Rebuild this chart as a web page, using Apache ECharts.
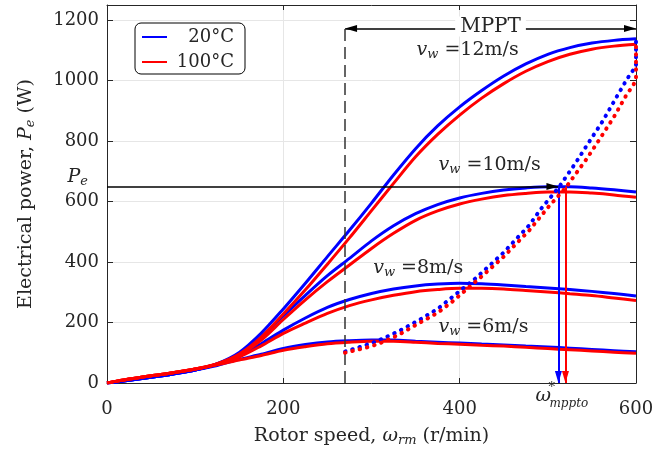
<!DOCTYPE html>
<html><head><meta charset="utf-8">
<script src="https://cdn.jsdelivr.net/npm/echarts@6/dist/echarts.min.js"></script>
<style>html,body{margin:0;padding:0;background:#fff}#c{width:652px;height:454px}</style>
</head><body><div id="c"></div>
<script>
// ---- data ----
const speed = [0,25,50,75,100,125,150,175,200,225,250,275,300,325,350,375,400,425,450,475,500,525,550,575,600];
const p20_12  = [0,9,19,30,43,64,101,165,245,330,418,505,595,688,775,850,913,967,1015,1055,1087,1109,1124,1133,1138];
const p100_12 = [0,13,24,34,46,64,96,152,228,308,393,480,570,660,748,822,886,942,990,1031,1063,1087,1104,1114,1120];
const p20_10  = [0,9,19,30,43,63,97,152,222,290,355,412,470,520,560,590,612,627,638,645,649,649,645,639,632];
const p100_10 = [0,13,24,34,46,63,92,142,210,275,335,390,445,495,538,569,592,608,620,627,632,632,628,622,614];
const p20_8   = [0,9,19,30,43,62,90,130,175,215,250,276,296,311,321,327,330,328,324,319,314,309,303,296,288];
const p100_8  = [0,13,24,34,46,62,86,123,164,198,230,256,275,290,302,309,313,313,311,306,301,295,289,281,273];
const p20_6   = [0,9,19,30,43,58,78,95,114,127,136,140,142,142,138,135,132,129,126,122,119,115,111,107,103];
const p100_6  = [0,13,24,34,46,60,76,91,108,120,130,135,138,138,135,131,128,125,122,118,114,110,106,102,98];

const mpptSpeed20 = [270,290,307,330,354,375,392,418,449,479,492,513,532,547,562,578,588,594,600,600,600,600,600];
const mpptPower20 = [104,122,139,170,208,245,285,346,429,522,575,649,730,798,865,946,996,1024,1046,1068,1090,1112,1136];
const mpptSpeed100 = [270,290,307,330,354,375,392,426,449,479,500,520,543,558,575,589,597,600,600,600,600,600];
const mpptPower100 = [100,114,128,158,198,232,270,355,415,505,580,645,737,803,880,952,985,1007,1035,1063,1090,1120];

const legendNames = ['20°C','100°C'];
const windLabels = ['12m/s','10m/s','8m/s','6m/s'];
const peLevel = 650;          // P_e
const wOpt20 = 512, wOpt100 = 520;  // ω*_mppto
const mpptStart = 270, mpptEnd = 600, mpptArrowLevel = 1172;

// ---- styling ----
const FONT = 'DejaVu Serif';
const TXT = '#262626';
const BLUE = '#0000ff', RED = '#ff0000';

function pairs(xs, ys){ return xs.map((x,i)=>[x, ys[i]]); }
function solid(name, color, ys, z){
  return {type:'line', name, data:pairs(speed, ys), showSymbol:false, smooth:0.3,
    lineStyle:{color, width:3}, itemStyle:{color}, z, animation:false, silent:true};
}
function dotted(name, color, xs, ys, z){
  return {type:'line', name, data:pairs(xs, ys), showSymbol:false, smooth:false,
    lineStyle:{color, width:4, type:[0.5,7], cap:'round'}, itemStyle:{color}, z, animation:false, silent:true};
}
const rich = {
  i:{fontFamily:FONT, fontStyle:'italic', fontSize:19, color:TXT},
  r:{fontFamily:FONT, fontSize:19, color:TXT},
  sub:{fontFamily:FONT, fontStyle:'italic', fontSize:13, color:TXT, padding:[9,0,0,0]}
};
const axisCommon = {
  axisLine:{show:true, onZero:false, lineStyle:{color:'#262626', width:1}},
  axisTick:{show:true, inside:true, length:5, lineStyle:{color:'#262626'}},
};

const chart = echarts.init(document.getElementById('c'), null, {renderer:'canvas'});
const option = {
  animation:false,
  backgroundColor:'#fff',
  grid:{left:107, right:16, top:5, bottom:71, containLabel:false, outerBoundsMode:'none'},
  legend:{
    data:legendNames, orient:'vertical', left:135, top:23, padding:[5,11,3,7], itemGap:7,
    itemWidth:25, itemHeight:2, icon:'rect', borderColor:'#000', borderWidth:1, borderRadius:6,
    backgroundColor:'#fff', selectedMode:false,
    formatter:n => '{t|'+n+'}',
    textStyle:{fontFamily:FONT, fontSize:18, color:TXT,
      rich:{t:{fontFamily:FONT, fontSize:18, color:TXT, width:62, align:'right', lineHeight:22}}}
  },
  xAxis:[
    Object.assign({type:'value', min:0, max:600, interval:200, position:'bottom',
      axisLabel:{fontFamily:FONT, fontSize:18, color:TXT, margin:17},
      splitLine:{show:true, lineStyle:{color:'#e6e6e6', width:1}},
      name:'Rotor speed, {i|ω}{sub|rm} (r/min)', nameLocation:'middle', nameGap:42, nameMoveOverlap:false,
      nameTextStyle:{fontFamily:FONT, fontSize:19, color:TXT, rich}}, axisCommon),
    Object.assign({type:'value', min:0, max:600, interval:200, position:'top',
      axisLabel:{show:false}, splitLine:{show:false}}, axisCommon)
  ],
  yAxis:[
    Object.assign({type:'value', min:0, max:1250, interval:200, position:'left',
      axisLabel:{fontFamily:FONT, fontSize:18, color:TXT, margin:8, formatter:v => v > 1200 ? '' : String(v)},
      splitLine:{show:true, lineStyle:{color:'#e6e6e6', width:1}},
      name:'Electrical power, {i|P}{sub|e} (W)', nameLocation:'middle', nameGap:70, nameMoveOverlap:false,
      nameTextStyle:{fontFamily:FONT, fontSize:19, color:TXT, rich}}, axisCommon, {axisTick:{show:true, inside:true, length:6, lineStyle:{color:'#262626'}}}),
    Object.assign({type:'value', min:0, max:1250, interval:200, position:'right',
      axisLabel:{show:false}, splitLine:{show:false}}, axisCommon, {axisTick:{show:true, inside:true, length:6, lineStyle:{color:'#262626'}}})
  ],
  series:[
    solid(legendNames[0], BLUE, p20_6, 2),
    solid(legendNames[0], BLUE, p20_8, 2),
    solid(legendNames[0], BLUE, p20_10, 2),
    solid(legendNames[0], BLUE, p20_12, 2),
    solid(legendNames[1], RED, p100_6, 3),
    solid(legendNames[1], RED, p100_8, 3),
    solid(legendNames[1], RED, p100_10, 3),
    solid(legendNames[1], RED, p100_12, 3),
    dotted('MPPT 20', BLUE, mpptSpeed20, mpptPower20, 4),
    dotted('MPPT 100', RED, mpptSpeed100, mpptPower100, 5),
    {type:'line', name:'annotations', data:[], silent:true, z:6,
      markLine:{silent:true, animation:false, symbol:['none','none'], label:{show:false},
        emphasis:{disabled:true},
        data:[
          [{coord:[0,peLevel], lineStyle:{color:'#000', width:1.5, type:'solid'}}, {coord:[wOpt20,peLevel]}],
          [{coord:[wOpt20,peLevel], lineStyle:{color:BLUE, width:2, type:'solid'}}, {coord:[wOpt20,0]}],
          [{coord:[wOpt100,peLevel], lineStyle:{color:RED, width:2, type:'solid'}}, {coord:[wOpt100,0]}],
          [{coord:[mpptStart,mpptArrowLevel], lineStyle:{color:'#000', width:1.5, type:'solid'}}, {coord:[mpptEnd,mpptArrowLevel]}],
          [{coord:[mpptStart,0], lineStyle:{color:'#333', width:1.5, type:[12,6]}}, {coord:[mpptStart,mpptArrowLevel]}]
        ]}}
  ]
};
chart.setOption(option);

const P = (x,y) => chart.convertToPixel({xAxisIndex:0, yAxisIndex:0}, [x,y]);
function head(x, y, dx, dy, color){
  const t = P(x,y), L = 12, W = 3.5;
  const px = -dy, py = dx;
  return {type:'polygon', z:100, silent:true,
    shape:{points:[[t[0],t[1]],[t[0]-dx*L+px*W, t[1]-dy*L+py*W],[t[0]-dx*L-px*W, t[1]-dy*L-py*W]]},
    style:{fill:color}};
}
function label(x, y, text, align){
  const p = P(x,y);
  return {type:'text', z:100, silent:true, x:p[0], y:p[1],
    style:{text, rich, align:align||'center', verticalAlign:'middle', fill:TXT, font:'19px "DejaVu Serif"'}};
}
const windAnchors = [[409,1101],[434,720],[353,380],[427,186]];
const g = [];
g.push(head(wOpt20, peLevel, 1, 0, '#000'));
g.push(head(wOpt20, 0, 0, 1, BLUE));
g.push(head(wOpt100, 0, 0, 1, RED));
g.push(head(mpptStart, mpptArrowLevel, -1, 0, '#000'));
g.push(head(mpptEnd, mpptArrowLevel, 1, 0, '#000'));
windLabels.forEach((w,k) => g.push(label(windAnchors[k][0], windAnchors[k][1], '{i|v}{sub|w}{r| =' + w + '}')));
const mp = P((mpptStart+mpptEnd)/2, mpptArrowLevel);
g.push({type:'text', z:101, silent:true, x:mp[0], y:mp[1]-2,
  style:{text:'MPPT', fill:TXT, font:'20px "DejaVu Serif"', align:'center', verticalAlign:'middle',
    backgroundColor:'#fff', padding:[0,5]}});
const pe = P(0, peLevel);
g.push({type:'text', z:101, silent:true, x:pe[0]-19, y:pe[1]-9,
  style:{text:'{i|P}{sub|e}', rich, align:'right', verticalAlign:'middle', fill:TXT}});
const wo = P(wOpt20 - 26, 0);
g.push({type:'text', z:101, silent:true, x:wo[0], y:wo[1]+13,
  style:{text:'ω', fill:TXT, font:'italic 19px "DejaVu Serif"', align:'left', verticalAlign:'middle'}});
g.push({type:'text', z:101, silent:true, x:wo[0]+13, y:wo[1]+5,
  style:{text:'*', fill:TXT, font:'13px "DejaVu Serif"', align:'left', verticalAlign:'middle'}});
g.push({type:'text', z:101, silent:true, x:wo[0]+14, y:wo[1]+21,
  style:{text:'mppto', fill:TXT, font:'italic 12px "DejaVu Serif"', align:'left', verticalAlign:'middle'}});
chart.setOption({graphic:g});
</script></body></html>
